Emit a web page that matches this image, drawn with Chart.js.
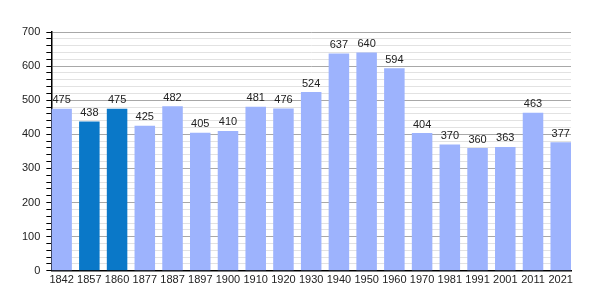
<!DOCTYPE html>
<html>
<head>
<meta charset="utf-8">
<script src="https://cdn.jsdelivr.net/npm/chart.js@4"></script>
<style>
    body { margin: 0; background: #fff; }
    #chart { display: block; }
</style>
</head>
<body>
<canvas id="chart" width="600" height="300"></canvas>
<script>
// Données
const years = ['1842', '1857', '1860', '1877', '1887', '1897', '1900', '1910', '1920', '1930',
    '1940', '1950', '1960', '1970', '1981', '1991', '2001', '2011', '2021']
const population = [475, 438, 475, 425, 482, 405, 410, 481, 476, 524,
    637, 640, 594, 404, 370, 360, 363, 463, 377]
const highlighted = ['1857', '1860']
const yTicks = [0, 100, 200, 300, 400, 500, 600, 700]

const lightBlue = '#9db3fd'
const darkBlue = '#0a78c8'
const barFraction = 0.74

// Est-ce une graduation principale ?
const isMajor = c => !c.tick || c.tick.value % 100 === 0

// Étiquettes au-dessus des barres
const valueLabels = {
    id: 'valueLabels',
    afterDatasetsDraw(chart) {
        const ctx = chart.ctx
        const meta = chart.getDatasetMeta(0)
        ctx.save()
        ctx.font = '11px "Liberation Sans", Arial, sans-serif'
        ctx.fillStyle = '#222'
        ctx.textAlign = 'center'
        ctx.textBaseline = 'bottom'
        meta.data.forEach((bar, i) => {
            ctx.fillText(population[i], bar.x, bar.y - 3)
        })
        ctx.restore()
    }
}

// eslint-disable-next-line no-new, no-undef
new Chart(document.getElementById('chart'), {
    type: 'bar',
    data: {
        datasets: [{
            data: population.map((v, i) => ({ x: i, y: v })),
            backgroundColor: years.map(y => highlighted.includes(y) ? darkBlue : lightBlue),
            borderWidth: 0,
            barPercentage: barFraction,
            categoryPercentage: 1,
        }],
    },
    options: {
        responsive: false,
        animation: false,
        layout: { padding: { top: 32, right: 29, left: 16, bottom: 10 } },
        plugins: {
            legend: { display: false },
            tooltip: { enabled: false },
        },
        scales: {
            x: {
                type: 'linear',
                offset: false,
                min: -barFraction / 2,
                max: years.length - 1 + barFraction / 2,
                afterBuildTicks: scale => {
                    scale.ticks = years.map((_, i) => ({ value: i }))
                },
                grid: { display: false, drawTicks: false },
                border: { color: '#000', width: 1.5 },
                ticks: {
                    color: '#222',
                    font: { family: '"Liberation Sans", Arial, sans-serif', size: 11 },
                    padding: 3,
                    maxRotation: 0,
                    autoSkip: false,
                    callback: v => years[v] ?? '',
                },
            },
            y: {
                min: 0,
                max: yTicks[yTicks.length - 1],
                border: { color: '#000', width: 1.5 },
                grid: {
                    color: c => isMajor(c) ? '#a8a8a8' : '#e2e2e2',
                    tickColor: '#000',
                    tickLength: 5,
                    lineWidth: 1,
                },
                ticks: {
                    stepSize: 20,
                    autoSkip: false,
                    color: '#222',
                    font: { family: '"Liberation Sans", Arial, sans-serif', size: 11 },
                    padding: 6,
                    callback: v => yTicks.includes(v) ? v : '',
                },
            },
        },
    },
    plugins: [valueLabels],
})
</script>
</body>
</html>
